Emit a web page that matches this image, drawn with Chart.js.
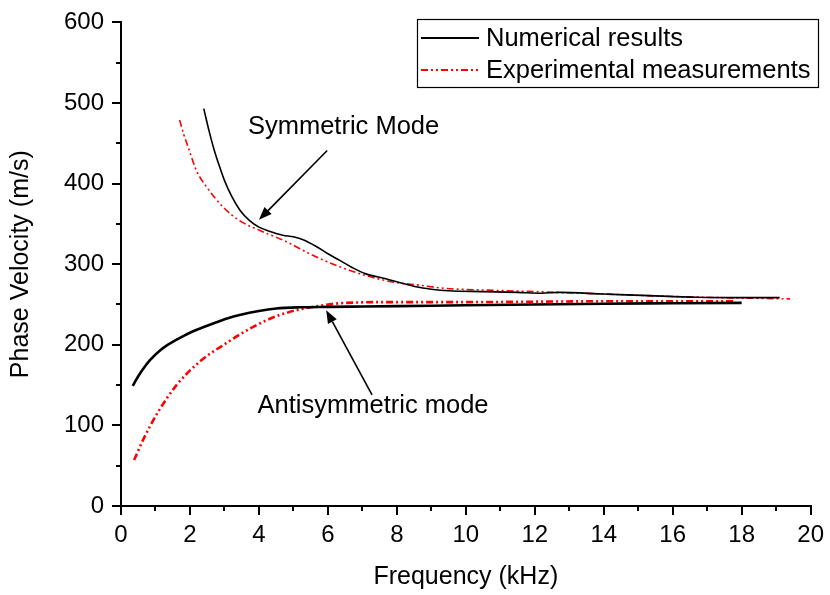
<!DOCTYPE html>
<html>
<head>
<meta charset="utf-8">
<script src="https://cdn.jsdelivr.net/npm/chart.js@4.4.0/dist/chart.umd.min.js"></script>
<style>
  html, body { margin: 0; padding: 0; background: #fff; }
  #wrap { width: 830px; height: 595px; }
</style>
</head>
<body>
<div id="wrap"><canvas id="phaseChart" width="830" height="595"></canvas></div>
<script>
// Symmetric mode - numerical
const freqSymNum = [2.4, 2.55, 2.7, 2.85, 3.0, 3.2, 3.45, 3.73, 4.0, 4.3, 4.69, 5.0, 5.3, 5.66, 6.0, 6.33, 6.7, 7.1, 7.68, 8.1, 8.55, 9.0, 9.5, 10.5, 11.5, 12.2, 12.7, 14, 15.3, 16.7, 18, 19.1];
const velSymNum = [493, 466, 442, 422, 404, 385, 367, 354, 346, 341, 336, 334, 330, 322, 313, 305, 296, 288, 282, 277, 272, 269, 267, 266, 265, 264, 265, 263, 261, 259, 258.5, 258.5];

// Symmetric mode - experimental
const freqSymExp = [1.7, 1.82, 1.95, 2.19, 2.48, 2.96, 3.44, 4.02, 4.79, 5.56, 6.33, 7.1, 7.87, 8.64, 9.41, 10.5, 12, 14, 16, 18, 19.4];
const velSymExp = [479, 461, 445, 416, 396, 371, 354, 342, 328, 311, 297, 286, 278, 274, 270, 268, 266, 263, 260, 258, 257];

// Antisymmetric mode - numerical
const freqAntiNum = [0.34, 0.5, 0.64, 0.84, 1.13, 1.32, 1.6, 2.0, 2.4, 2.77, 3.1, 3.44, 4.0, 4.5, 5.17, 6, 7, 8, 10, 12, 14, 16, 18];
const velAntiNum = [149, 161, 170, 181, 193, 199, 206, 215, 222, 228, 233, 237, 242, 245, 246.5, 247, 247.5, 248, 249, 250, 251, 251.5, 252];

// Antisymmetric mode - experimental
const freqAntiExp = [0.38, 0.64, 1.08, 1.61, 2.28, 3.05, 3.82, 4.6, 5.56, 6.52, 8, 10, 12, 14, 16, 17.8];
const velAntiExp = [57, 82, 117, 150, 179, 202, 222, 237, 247, 252, 253, 253, 253.5, 254, 254, 254];

// Axis ticks
const xTicks = [0, 2, 4, 6, 8, 10, 12, 14, 16, 18, 20];
const xMinorTicks = [1, 3, 5, 7, 9, 11, 13, 15, 17, 19];
const yTicks = [0, 100, 200, 300, 400, 500, 600];
const yMinorTicks = [50, 150, 250, 350, 450, 550];

const legendLabels = ['Numerical results', 'Experimental measurements'];

const FONT = '"Liberation Sans", Arial, sans-serif';
const RED_DASH = [7, 3, 2, 3, 2, 3];

function toPoints(xs, ys) {
  return xs.map((x, i) => ({ x: x, y: ys[i] }));
}

function lineSet(label, xs, ys, color, width, dash) {
  return {
    label: label,
    data: toPoints(xs, ys),
    borderColor: color,
    borderWidth: width,
    borderDash: dash || [],
    pointRadius: 0,
    fill: false,
    cubicInterpolationMode: 'monotone',
    tension: 0.4
  };
}

// arrows + labels, in data units
const notes = [
  { text: 'Symmetric Mode', tx: 3.68, ty: 462, from: [5.98, 441], to: [4.0, 355] },
  { text: 'Antisymmetric mode', tx: 3.96, ty: 115, from: [7.28, 138], to: [5.95, 243] }
];

const extrasPlugin = {
  id: 'extras',
  afterDraw(chart) {
    const ctx = chart.ctx;
    const xs = chart.scales.x;
    const ys = chart.scales.y;
    const area = chart.chartArea;

    ctx.save();
    // minor ticks
    ctx.strokeStyle = '#000';
    ctx.lineWidth = 2;
    xMinorTicks.forEach(v => {
      const px = Math.round(xs.getPixelForValue(v));
      ctx.beginPath();
      ctx.moveTo(px, area.bottom);
      ctx.lineTo(px, area.bottom + 5);
      ctx.stroke();
    });
    yMinorTicks.forEach(v => {
      const py = Math.round(ys.getPixelForValue(v));
      ctx.beginPath();
      ctx.moveTo(area.left, py);
      ctx.lineTo(area.left - 5, py);
      ctx.stroke();
    });

    // annotations
    ctx.fillStyle = '#000';
    ctx.font = '25.5px ' + FONT;
    ctx.textBaseline = 'alphabetic';
    ctx.textAlign = 'left';
    notes.forEach(n => {
      ctx.fillText(n.text, xs.getPixelForValue(n.tx), ys.getPixelForValue(n.ty));
      const x1 = xs.getPixelForValue(n.from[0]), y1 = ys.getPixelForValue(n.from[1]);
      const x2 = xs.getPixelForValue(n.to[0]), y2 = ys.getPixelForValue(n.to[1]);
      const ang = Math.atan2(y2 - y1, x2 - x1);
      const hl = 13, hw = 5;
      const bx = x2 - hl * Math.cos(ang), by = y2 - hl * Math.sin(ang);
      ctx.lineWidth = 1.6;
      ctx.beginPath();
      ctx.moveTo(x1, y1);
      ctx.lineTo(bx, by);
      ctx.stroke();
      ctx.beginPath();
      ctx.moveTo(x2, y2);
      ctx.lineTo(bx + hw * Math.sin(ang), by - hw * Math.cos(ang));
      ctx.lineTo(bx - hw * Math.sin(ang), by + hw * Math.cos(ang));
      ctx.closePath();
      ctx.fill();
    });

    // legend box
    const lx = 417, ly = 19, lw = 401, lh = 68;
    ctx.lineWidth = 1.2;
    ctx.setLineDash([]);
    ctx.fillStyle = '#fff';
    ctx.fillRect(lx, ly, lw, lh);
    ctx.strokeRect(lx + 0.5, ly + 0.5, lw, lh);
    const rows = [
      { y: 38, color: '#000', dash: [] },
      { y: 70, color: '#ff0000', dash: RED_DASH }
    ];
    ctx.font = '25.5px ' + FONT;
    ctx.textBaseline = 'middle';
    rows.forEach((r, i) => {
      ctx.strokeStyle = r.color;
      ctx.setLineDash(r.dash);
      ctx.lineWidth = 2;
      ctx.beginPath();
      ctx.moveTo(421, r.y);
      ctx.lineTo(479, r.y);
      ctx.stroke();
      ctx.setLineDash([]);
      ctx.fillStyle = '#000';
      ctx.fillText(legendLabels[i], 486, r.y + 1);
    });
    ctx.restore();
  }
};

const ctx = document.getElementById('phaseChart').getContext('2d');
const phaseChart = new Chart(ctx, {
  type: 'line',
  data: {
    datasets: [
      lineSet(legendLabels[0], freqSymNum, velSymNum, '#000', 1.6),
      lineSet(legendLabels[1], freqSymExp, velSymExp, '#ff0000', 1.6, RED_DASH),
      lineSet(legendLabels[0], freqAntiNum, velAntiNum, '#000', 2.6),
      lineSet(legendLabels[1], freqAntiExp, velAntiExp, '#ff0000', 2.6, RED_DASH)
    ]
  },
  options: {
    responsive: false,
    animation: false,
    layout: { padding: { left: 0, right: 16, top: 22, bottom: 0 } },
    plugins: {
      legend: { display: false },
      tooltip: { enabled: false }
    },
    scales: {
      x: {
        type: 'linear',
        min: 0,
        max: 20,
        afterBuildTicks: s => { s.ticks = xTicks.map(v => ({ value: v })); },
        afterFit: s => { s.height = 89; },
        ticks: { color: '#000', font: { family: FONT, size: 24 }, padding: 6, maxRotation: 0 },
        grid: { display: true, drawOnChartArea: false, drawTicks: true, tickLength: 9, color: '#000', lineWidth: 2 },
        border: { display: true, color: '#000', width: 2 },
        title: { display: true, text: 'Frequency (kHz)', color: '#000', font: { family: FONT, size: 25 }, padding: { top: 0, bottom: 3 } }
      },
      y: {
        type: 'linear',
        min: 0,
        max: 600,
        afterBuildTicks: s => { s.ticks = yTicks.map(v => ({ value: v })); },
        afterFit: s => { s.width = 121; },
        ticks: { color: '#000', font: { family: FONT, size: 24 }, padding: 8 },
        grid: { display: true, drawOnChartArea: false, drawTicks: true, tickLength: 9, color: '#000', lineWidth: 2 },
        border: { display: true, color: '#000', width: 2 },
        title: { display: true, text: 'Phase Velocity (m/s)', color: '#000', font: { family: FONT, size: 25 }, padding: { top: 6, bottom: 0 } }
      }
    }
  },
  plugins: [extrasPlugin]
});
</script>
</body>
</html>
